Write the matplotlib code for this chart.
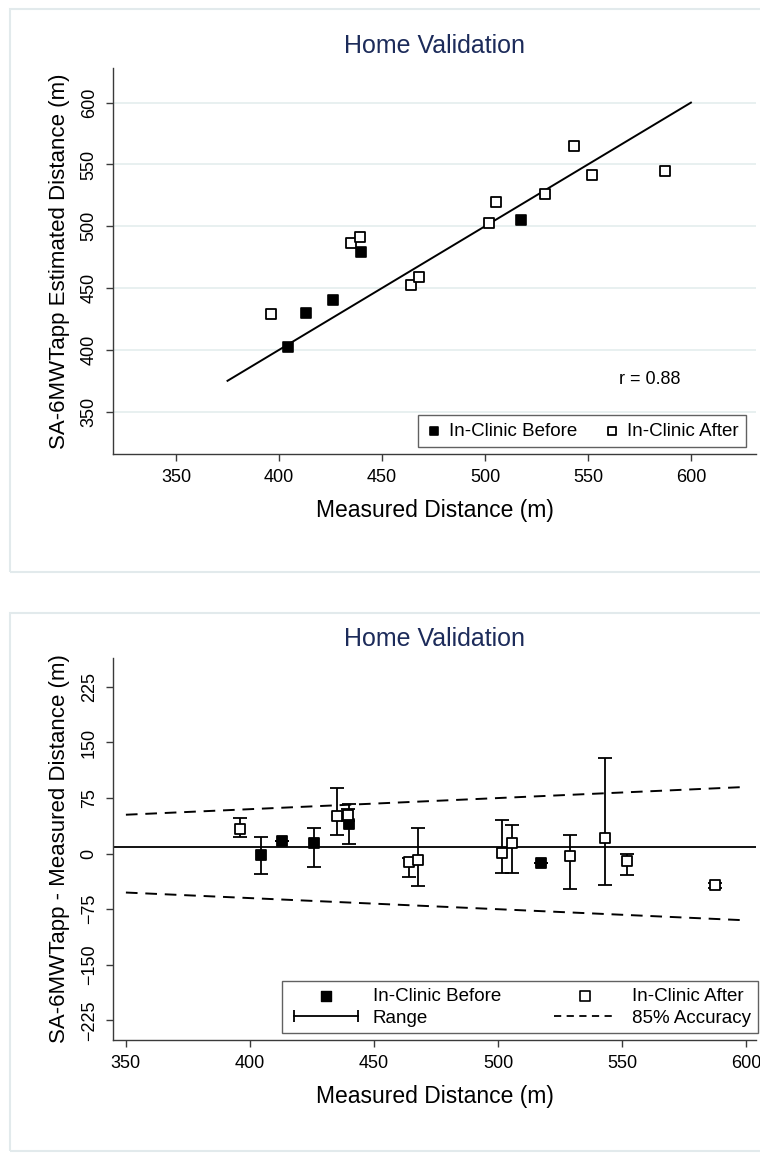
import matplotlib
matplotlib.use("Agg")
import matplotlib.pyplot as plt
import numpy as np
from matplotlib.lines import Line2D
from matplotlib.patches import Rectangle

# In-Clinic Before (filled squares)
before_measured = [404.5, 413.0, 426.0, 440.0, 517.5]
before_estimated = [402.0, 430.0, 440.0, 479.5, 505.3]
before_range_low = [-27.5, 17.0, -17.5, 13.0, -12.2]
before_range_high = [22.9, 17.0, 34.1, 66.9, -12.2]

# In-Clinic After (open squares)
after_measured = [396.0, 435.2, 439.5, 464.0, 467.8, 501.8, 505.6, 529.0, 543.2, 552.0, 587.5]
after_estimated = [429.0, 486.5, 491.6, 452.3, 458.7, 503.0, 520.0, 526.0, 564.7, 541.7, 544.5]
after_range_low = [22.4, 24.7, 44.0, -31.6, -43.7, -26.6, -25.6, -47.2, -42.8, -29.3, -47.0]
after_range_high = [48.6, 88.1, 60.0, -5.4, 34.6, 45.0, 38.2, 24.7, 128.6, -0.9, -40.0]

identity_range = [375, 600]
accuracy_range = [350, 600]
accuracy_pct = 0.15
r_value = 0.88

top_yticks = [350, 400, 450, 500, 550, 600]
top_xticks = [350, 400, 450, 500, 550, 600]
bottom_yticks = [-225, -150, -75, 0, 75, 150, 225]
bottom_xticks = [350, 400, 450, 500, 550, 600]

plt.rcParams['font.family'] = ['Liberation Sans', 'DejaVu Sans']
TITLE_COLOR = '#1c2b5a'
AXIS_COLOR = '#3a3a3a'
GRID_COLOR = '#e4eeee'
PANEL_COLOR = '#e2eaec'

fig = plt.figure(figsize=(7.6, 11.59), dpi=100)
W, H = 760, 1159


def fig_rect(x0, y0, x1, y1):
    """pixel box (top-left origin) -> figure fraction [l, b, w, h]"""
    return [x0 / W, 1 - y1 / H, (x1 - x0) / W, (y1 - y0) / H]


# light panel frames (Stata graph regions)
for y0, y1 in [(9, 572), (613, 1151)]:
    l, b, w, h = fig_rect(10, y0, 780, y1)
    fig.patches.append(Rectangle((l, b), w, h, transform=fig.transFigure,
                                 facecolor='none', edgecolor=PANEL_COLOR, linewidth=1.5, zorder=-1))


def style_axes(ax):
    for side in ['top', 'right']:
        ax.spines[side].set_visible(False)
    for side in ['left', 'bottom']:
        ax.spines[side].set_color(AXIS_COLOR)
        ax.spines[side].set_linewidth(1.0)
    ax.tick_params(direction='out', length=5, width=1, color=AXIS_COLOR, labelsize=13, pad=6)
    ax.tick_params(axis='y', labelrotation=90)
    for lab in ax.get_yticklabels():
        lab.set_va('center')


# ---------- top: estimated vs measured ----------
ax1 = fig.add_axes(fig_rect(113, 68, 756, 454))
ax1.set_facecolor('none')
ax1.plot(identity_range, identity_range, color='black', linewidth=1.4, zorder=2)
ax1.scatter(before_measured, before_estimated, marker='s', s=60, facecolor='black',
            edgecolor='black', linewidth=1.2, zorder=3, label='In-Clinic Before')
ax1.scatter(after_measured, after_estimated, marker='s', s=60, facecolor='white',
            edgecolor='black', linewidth=1.3, zorder=3, label='In-Clinic After')
ax1.set_xlim(319.4, 631.6)
ax1.set_ylim(315.8, 628)
ax1.set_xticks(top_xticks)
ax1.set_yticks(top_yticks)
ax1.grid(axis='y', color=GRID_COLOR, linewidth=1.2)
ax1.set_axisbelow(True)
style_axes(ax1)
ax1.text(580, 376, f'r = {r_value:.2f}', fontsize=13, ha='center', va='center')
ax1.set_title('Home Validation', fontsize=18, color=TITLE_COLOR, pad=11)
ax1.set_xlabel('Measured Distance (m)', fontsize=16.5, labelpad=9)
ax1.set_ylabel('SA-6MWTapp Estimated Distance (m)', fontsize=16, labelpad=8)
leg1 = ax1.legend(loc='lower right', ncol=2, frameon=True, fontsize=13.5, scatterpoints=1,
                  handlelength=0.9, handletextpad=0.35, columnspacing=1.4, borderpad=0.4,
                  borderaxespad=0, fancybox=False, markerscale=0.75, bbox_to_anchor=(0.985, 0.017))
leg1.get_frame().set_edgecolor(AXIS_COLOR)
leg1.get_frame().set_linewidth(1.0)

# ---------- bottom: difference vs measured ----------
before_measured_a = np.array(before_measured)
after_measured_a = np.array(after_measured)
before_diff = np.array(before_estimated) - before_measured_a
after_diff = np.array(after_estimated) - after_measured_a
mean_diff = np.concatenate([before_diff, after_diff]).mean()

ax2 = fig.add_axes(fig_rect(113, 658, 756, 1040))
ax2.set_facecolor('none')
acc_x = np.array(accuracy_range)
ax2.plot(acc_x, accuracy_pct * acc_x, color='black', linestyle=(0, (6, 4)), linewidth=1.4, zorder=1)
ax2.plot(acc_x, -accuracy_pct * acc_x, color='black', linestyle=(0, (6, 4)), linewidth=1.4, zorder=1)
ax2.axhline(mean_diff, color='black', linewidth=1.3, zorder=1)

for meas, diff, lo, hi, face in [(before_measured_a, before_diff, before_range_low, before_range_high, 'black'),
                                  (after_measured_a, after_diff, after_range_low, after_range_high, 'white')]:
    lo = np.array(lo)
    hi = np.array(hi)
    ax2.errorbar(meas, diff, yerr=[np.clip(diff - lo, 0, None), np.clip(hi - diff, 0, None)], fmt='none',
                 ecolor='black', elinewidth=1.3, capsize=5, capthick=1.3, zorder=2)
    ax2.scatter(meas, diff, marker='s', s=60, facecolor=face, edgecolor='black', linewidth=1.3, zorder=3)

ax2.set_xlim(344.8, 604)
ax2.set_ylim(-251.5, 264)
ax2.set_xticks(bottom_xticks)
ax2.set_yticks(bottom_yticks)
style_axes(ax2)
ax2.set_title('Home Validation', fontsize=18, color=TITLE_COLOR, pad=9)
ax2.set_xlabel('Measured Distance (m)', fontsize=16.5, labelpad=9)
ax2.set_ylabel('SA-6MWTapp - Measured Distance (m)', fontsize=16, labelpad=8)

h_before = ax2.scatter([], [], marker='s', s=45, facecolor='black', edgecolor='black')
h_after = ax2.scatter([], [], marker='s', s=45, facecolor='white', edgecolor='black', linewidth=1.2)
h_range = Line2D([], [], color='black', linewidth=1.3, marker='|', markersize=9, markeredgewidth=1.3)
h_acc = Line2D([], [], color='black', linestyle=(0, (4, 3)), linewidth=1.3)
leg2 = ax2.legend([h_before, h_range, h_after, h_acc],
                  ['In-Clinic Before', 'Range', 'In-Clinic After', '85% Accuracy'],
                  loc='lower right', ncol=2, frameon=True, fontsize=13.5, scatterpoints=1, numpoints=2,
                  handlelength=4.0, handletextpad=0.5, columnspacing=2.5, borderpad=0.35,
                  labelspacing=0.25, borderaxespad=0, fancybox=False, bbox_to_anchor=(1.003, 0.018))
leg2.get_frame().set_edgecolor(AXIS_COLOR)
leg2.get_frame().set_linewidth(1.0)

fig.savefig('out.png', dpi=100, facecolor='white')
